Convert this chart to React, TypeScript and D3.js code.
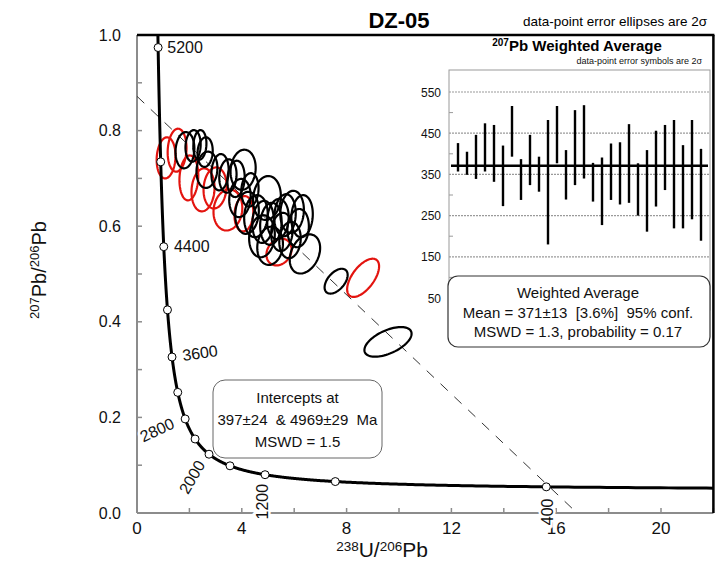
import React from 'react';
import * as d3 from 'd3';

const W = 727;
const H = 564;
const FONT = "'Liberation Sans', Arial, Helvetica, sans-serif";

// ---------- data ----------
const sampleName = 'DZ-05';
// accepted analyses (black): 238U/206Pb, 207Pb/206Pb, 2σ half-widths, error correlation
const blackX = [1.83, 2.14, 2.40, 2.60, 2.67, 3.17, 3.47, 3.78, 4.05, 4.31, 4.96, 4.20, 4.54, 4.81, 5.11, 5.38, 5.65, 5.92, 6.30, 5.53, 4.77, 5.08, 5.84, 6.41, 7.60, 9.58, 3.93, 6.15];
const blackY = [0.759, 0.768, 0.770, 0.755, 0.718, 0.713, 0.705, 0.699, 0.718, 0.676, 0.659, 0.628, 0.621, 0.609, 0.605, 0.615, 0.623, 0.630, 0.621, 0.588, 0.579, 0.559, 0.571, 0.542, 0.485, 0.358, 0.659, 0.596];
const blackSX = [0.36, 0.29, 0.25, 0.29, 0.40, 0.33, 0.33, 0.33, 0.48, 0.33, 0.53, 0.45, 0.45, 0.41, 0.41, 0.41, 0.41, 0.45, 0.41, 0.41, 0.49, 0.49, 0.41, 0.58, 0.44, 0.90, 0.41, 0.41];
const blackSY = [0.038, 0.033, 0.031, 0.031, 0.038, 0.038, 0.035, 0.038, 0.042, 0.035, 0.046, 0.044, 0.044, 0.044, 0.044, 0.042, 0.044, 0.044, 0.044, 0.040, 0.044, 0.040, 0.038, 0.041, 0.026, 0.031, 0.040, 0.040];
const blackRho = [0.1, 0.1, 0.1, 0.1, 0.1, 0.1, 0.1, 0.1, 0.1, 0.1, 0.1, 0.1, 0.1, 0.1, 0.1, 0.1, 0.1, 0.1, 0.1, 0.1, 0.1, 0.1, 0.1, 0.3, 0.5, 0.55, 0.1, 0.1];
// rejected analyses (red)
const redX = [1.11, 1.53, 1.98, 2.52, 2.98, 3.47, 4.08, 5.42, 8.63];
const redY = [0.743, 0.759, 0.701, 0.676, 0.680, 0.634, 0.626, 0.546, 0.492];
const redSX = [0.36, 0.36, 0.36, 0.44, 0.44, 0.55, 0.36, 0.48, 0.61];
const redSY = [0.043, 0.045, 0.047, 0.045, 0.043, 0.043, 0.037, 0.028, 0.040];
const redRho = [0.1, 0.1, 0.1, 0.1, 0.1, 0.1, 0.1, 0.2, 0.6];

const markerAges = [400, 800, 1200, 1600, 2000, 2400, 2800, 3200, 3600, 4000, 4400, 4800, 5200];
const labelAges = [5200, 4400, 3600, 2800, 2000, 1200, 400];
const lowerIntercept = 397;
const upperIntercept = 4969;

const xTickLabels = [0, 4, 8, 12, 16, 20];
const xMinorTicks = [2, 6, 10, 14, 18, 22];
const yTickLabels = [0, 0.2, 0.4, 0.6, 0.8, 1.0];
const yMinorTicks = [0.1, 0.3, 0.5, 0.7, 0.9];

const interceptText = ['Intercepts at', '397±24  & 4969±29  Ma', 'MSWD = 1.5'];

// 207Pb weighted-average inset (Ma)
const wtdLow = [357, 349, 339, 357, 332, 273, 393, 288, 324, 308, 180, 377, 289, 324, 340, 284, 227, 288, 277, 281, 250, 211, 272, 312, 219, 219, 241, 189];
const wtdHigh = [426, 405, 446, 474, 470, 420, 516, 387, 446, 393, 482, 516, 409, 506, 518, 378, 391, 425, 428, 472, 377, 409, 456, 470, 482, 421, 482, 412];
const wtdMean = 371;
const insetTickLabels = [550, 450, 350, 250, 150, 50];
const insetGrid = [550, 450, 350, 250, 150];
const insetMinor = [500, 400, 300, 200, 100];
const wtdText = ['Weighted Average', 'Mean = 371±13  [3.6%]  95% conf.', 'MSWD = 1.3, probability = 0.17'];

// ---------- concordia ----------
const L238 = 1.55125e-4; // per Ma
const L235 = 9.8485e-4;
const U85 = 137.88;
function tw(t: number) {
  const e8 = Math.exp(L238 * t) - 1;
  const e5 = Math.exp(L235 * t) - 1;
  return { x: 1 / e8, y: e5 / e8 / U85 };
}

// label placement relative to marker (pixels) — style only
const labelStyle: Record<number, { dx: number; dy: number; rot: number }> = {
  5200: { dx: 27, dy: 0, rot: 0 },
  4400: { dx: 28, dy: 0, rot: 0 },
  3600: { dx: 28, dy: -4, rot: -8 },
  2800: { dx: -28, dy: 11, rot: -25 },
  2000: { dx: -17, dy: 23, rot: -60 },
  1200: { dx: -3, dy: 27, rot: -90 },
  400: { dx: 1, dy: 25, rot: -90 },
};

const x = d3.scaleLinear().domain([0, 22]).range([137, 713.4]);
const y = d3.scaleLinear().domain([0, 1]).range([513, 35]);

const ix = d3.scaleLinear().domain([0, 29]).range([449, 710]);
const iy = d3.scaleLinear().domain([50, 550]).range([298, 92]);

function ellipsePath(cx: number, cy: number, sx: number, sy: number, rho: number) {
  const pts = d3.range(0, 2 * Math.PI + 0.001, Math.PI / 40).map((a) => {
    const u = Math.cos(a);
    const v = Math.sin(a);
    return [cx + sx * u, cy + sy * (rho * u + Math.sqrt(1 - rho * rho) * v)] as [number, number];
  });
  return d3.line<[number, number]>().x((d) => x(d[0])).y((d) => y(d[1])).curve(d3.curveLinearClosed)(pts) || '';
}

export default function App() {
  const curvePts = d3.range(250, 5400, 5).map((t) => tw(t));
  const curve = d3.line<{ x: number; y: number }>().x((d) => x(d.x)).y((d) => y(d.y))(curvePts) || '';

  const ui = tw(upperIntercept);
  const li = tw(lowerIntercept);
  const slope = (li.y - ui.y) / (li.x - ui.x);
  const y0 = ui.y - slope * ui.x;
  const xEnd = 16.6;

  const plotLeft = x(0);
  const plotRight = x(22);
  const plotTop = y(1);
  const plotBottom = y(0);

  return (
    <svg width={W} height={H} style={{ position: 'absolute', left: 0, top: 0, background: '#fff' }} fontFamily={FONT}>
      <defs>
        <clipPath id="plotClip">
          <rect x={plotLeft} y={plotTop} width={plotRight - plotLeft} height={plotBottom - plotTop} />
        </clipPath>
      </defs>
      <rect x={0} y={0} width={W} height={H} fill="#fff" />

      {/* axes */}
      <line x1={plotLeft} x2={plotLeft} y1={plotTop} y2={plotBottom} stroke="#8c8c8c" strokeWidth={2} />
      <line x1={plotLeft} x2={plotRight} y1={plotBottom} y2={plotBottom} stroke="#8c8c8c" strokeWidth={2} />
      {[...xTickLabels, ...xMinorTicks].map((v) => (
        <line key={'xt' + v} x1={x(v)} x2={x(v)} y1={plotBottom} y2={plotBottom - 5} stroke="#8c8c8c" strokeWidth={1.5} />
      ))}
      {[...yTickLabels, ...yMinorTicks].map((v) => (
        <line key={'yt' + v} x1={plotLeft} x2={plotLeft + 5} y1={y(v)} y2={y(v)} stroke="#8c8c8c" strokeWidth={1.5} />
      ))}
      {xTickLabels.map((v) => (
        <text key={'xl' + v} x={x(v)} y={534} fontSize={17} textAnchor="middle" fill="#111">{v}</text>
      ))}
      {yTickLabels.map((v) => (
        <text key={'yl' + v} x={121} y={y(v) + 5.5} fontSize={16} textAnchor="end" fill="#111">{v.toFixed(1)}</text>
      ))}
      <line x1={plotLeft} x2={plotRight + 1} y1={plotTop} y2={plotTop} stroke="#000" strokeWidth={2.5} />
      <line x1={plotRight} x2={plotRight} y1={plotTop} y2={plotBottom} stroke="#000" strokeWidth={2.5} />

      {/* axis titles */}
      <text x={382} y={557} textAnchor="middle" fill="#111">
        <tspan fontSize={13.5} dy={-6}>238</tspan>
        <tspan fontSize={21} dy={6}>U/</tspan>
        <tspan fontSize={13.5} dy={-6}>206</tspan>
        <tspan fontSize={21} dy={6}>Pb</tspan>
      </text>
      <text transform={`translate(46,270) rotate(-90)`} textAnchor="middle" fill="#111">
        <tspan fontSize={13} dy={-7}>207</tspan>
        <tspan fontSize={20} dy={7}>Pb/</tspan>
        <tspan fontSize={13} dy={-7}>206</tspan>
        <tspan fontSize={20} dy={7}>Pb</tspan>
      </text>

      {/* title */}
      <text x={399} y={28} fontSize={22} fontWeight="bold" textAnchor="middle" fill="#000">{sampleName}</text>
      <text x={707} y={26} fontSize={13.5} textAnchor="end" fill="#000">data-point error ellipses are 2σ</text>

      <g clipPath="url(#plotClip)">
        {/* discordia */}
        <line x1={x(0)} y1={y(y0)} x2={x(xEnd)} y2={y(y0 + slope * xEnd)} stroke="#333" strokeWidth={1} strokeDasharray="10,9" />
        {/* ellipses */}
        {redX.map((v, i) => (
          <path key={'r' + i} d={ellipsePath(v, redY[i], redSX[i], redSY[i], redRho[i])} fill="none" stroke="#e3140f" strokeWidth={2.2} />
        ))}
        {blackX.map((v, i) => (
          <path key={'b' + i} d={ellipsePath(v, blackY[i], blackSX[i], blackSY[i], blackRho[i])} fill="none" stroke="#000" strokeWidth={2.2} />
        ))}
        {/* concordia */}
        <path d={curve} fill="none" stroke="#000" strokeWidth={3} />
        {markerAges.map((t) => {
          const p = tw(t);
          return <circle key={'m' + t} cx={x(p.x)} cy={y(p.y)} r={4} fill="#fff" stroke="#000" strokeWidth={1} />;
        })}
      </g>
      {labelAges.map((t) => {
        const p = tw(t);
        const s = labelStyle[t];
        return (
          <text
            key={'l' + t}
            transform={`translate(${x(p.x) + s.dx},${y(p.y) + s.dy}) rotate(${s.rot})`}
            fontSize={16}
            textAnchor="middle"
            dominantBaseline="central"
            fill="#111"
            stroke="#fff"
            strokeWidth={5}
            paintOrder="stroke"
          >
            {t}
          </text>
        );
      })}

      {/* intercept box */}
      <rect x={213} y={380} width={169} height={78} rx={12} fill="#fff" stroke="#666" strokeWidth={1} />
      {interceptText.map((s, i) => (
        <text key={'it' + i} x={297.5} y={403 + i * 22} fontSize={15} textAnchor="middle" fill="#111" style={{ whiteSpace: 'pre' }}>{s}</text>
      ))}

      {/* inset */}
      <rect x={417} y={37} width={295} height={318} fill="#fff" />
      <text x={577} y={51} textAnchor="middle" fontWeight="bold" fill="#000">
        <tspan fontSize={10} dy={-5}>207</tspan>
        <tspan fontSize={15} dy={5}>Pb Weighted Average</tspan>
      </text>
      <text x={702} y={64} fontSize={9} textAnchor="end" fill="#111">data-point error symbols are 2σ</text>
      <rect x={449} y={70} width={261} height={240} fill="none" stroke="#9a9a9a" strokeWidth={1} />
      {insetGrid.map((v) => (
        <line key={'ig' + v} x1={449} x2={710} y1={iy(v)} y2={iy(v)} stroke="#9a9a9a" strokeWidth={1.2} strokeDasharray="2,1" />
      ))}
      {insetMinor.map((v) => (
        <line key={'im' + v} x1={449} x2={453} y1={iy(v)} y2={iy(v)} stroke="#9a9a9a" strokeWidth={1} />
      ))}
      {insetTickLabels.map((v) => (
        <text key={'itl' + v} x={441} y={iy(v) + 4.5} fontSize={12} textAnchor="end" fill="#111">{v}</text>
      ))}
      {wtdLow.map((lo, i) => (
        <line key={'bar' + i} x1={ix(i + 1)} x2={ix(i + 1)} y1={iy(lo)} y2={iy(wtdHigh[i])} stroke="#000" strokeWidth={2.4} />
      ))}
      <line x1={451} x2={708} y1={iy(wtdMean)} y2={iy(wtdMean)} stroke="#000" strokeWidth={2.5} />
      <rect x={448} y={276} width={262} height={71} rx={10} fill="#fff" stroke="#333" strokeWidth={1.2} />
      {wtdText.map((s, i) => (
        <text key={'wt' + i} x={578} y={298 + i * 19.5} fontSize={15} textAnchor="middle" fill="#111" style={{ whiteSpace: 'pre' }}>{s}</text>
      ))}
    </svg>
  );
}
